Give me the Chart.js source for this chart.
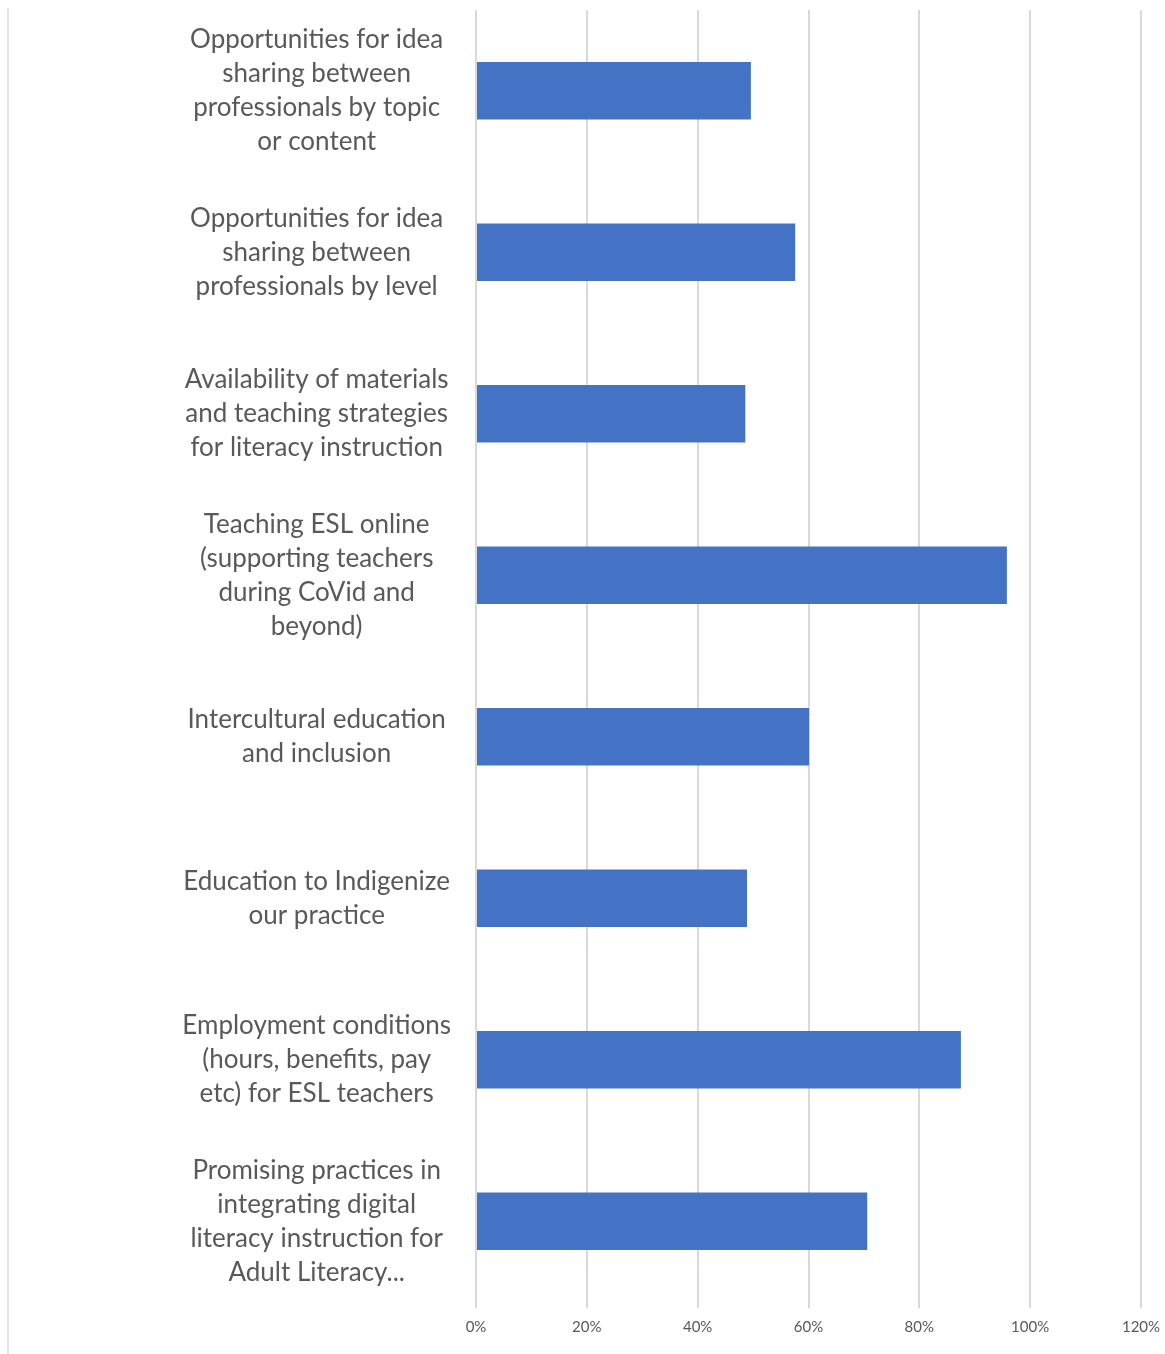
<!DOCTYPE html>
<html>
<head>
<meta charset="utf-8">
<script src="https://cdn.jsdelivr.net/npm/chart.js@4.4.0/dist/chart.umd.min.js"></script>
<style>
  html, body { margin: 0; padding: 0; background: #fff; }
  #wrap { position: relative; width: 1165px; height: 1354px; }
  #edge { position: absolute; left: 7px; top: 8px; width: 2px; height: 1346px; background: #e3e3e3; }
  canvas { position: absolute; left: 0; top: 0; }
</style>
</head>
<body>
<div id="wrap">
  <div id="edge"></div>
  <canvas id="topicsChart"></canvas>
</div>
<script>
// Category labels (wrapped as in the original)
const topics = [
  ['Opportunities for idea', 'sharing between', 'professionals by topic', 'or content'],
  ['Opportunities for idea', 'sharing between', 'professionals by level'],
  ['Availability of materials', 'and teaching strategies', 'for literacy instruction'],
  ['Teaching ESL online', '(supporting teachers', 'during CoVid and', 'beyond)'],
  ['Intercultural education', 'and inclusion'],
  ['Education to Indigenize', 'our practice'],
  ['Employment conditions', '(hours, benefits, pay', 'etc) for ESL teachers'],
  ['Promising practices in', 'integrating digital', 'literacy instruction for', 'Adult Literacy...']
];

// Share of respondents (%)
const shares = [49.6, 57.6, 48.6, 95.8, 60.1, 48.9, 87.5, 70.6];

// x axis ticks
const axisMax = 120;
const axisStep = 20;

const ctx = document.getElementById('topicsChart');
ctx.width = 1165;
ctx.height = 1354;

new Chart(ctx.getContext('2d'), {
  type: 'bar',
  data: {
    labels: topics,
    datasets: [{
      data: shares,
      backgroundColor: '#4472C4',
      borderWidth: 0,
      categoryPercentage: 1,
      barPercentage: 0.355
    }]
  },
  options: {
    indexAxis: 'y',
    responsive: false,
    animation: false,
    layout: { padding: { top: 10, right: 24, bottom: 8, left: 10 } },
    plugins: {
      legend: { display: false },
      tooltip: { enabled: false }
    },
    scales: {
      x: {
        min: 0,
        max: axisMax,
        afterFit: scale => {
          scale.paddingLeft = 0;
          scale.paddingRight = 0;
        },
        ticks: {
          stepSize: axisStep,
          color: '#595959',
          font: { family: 'Lato', size: 15 },
          padding: 10,
          callback: v => v + '%'
        },
        grid: { color: '#d9d9d9', lineWidth: 2, drawTicks: true, tickLength: 6 },
        border: { display: false }
      },
      y: {
        afterFit: scale => {
          scale.width = 466;
          scale.paddingTop = 0;
          scale.paddingBottom = 0;
        },
        ticks: {
          color: '#595959',
          font: { family: 'Lato', size: 26, lineHeight: 1.31 },
          crossAlign: 'center',
          padding: 25,
          autoSkip: false
        },
        grid: { display: false, drawTicks: false },
        border: { display: false }
      }
    }
  }
});
</script>
</body>
</html>
